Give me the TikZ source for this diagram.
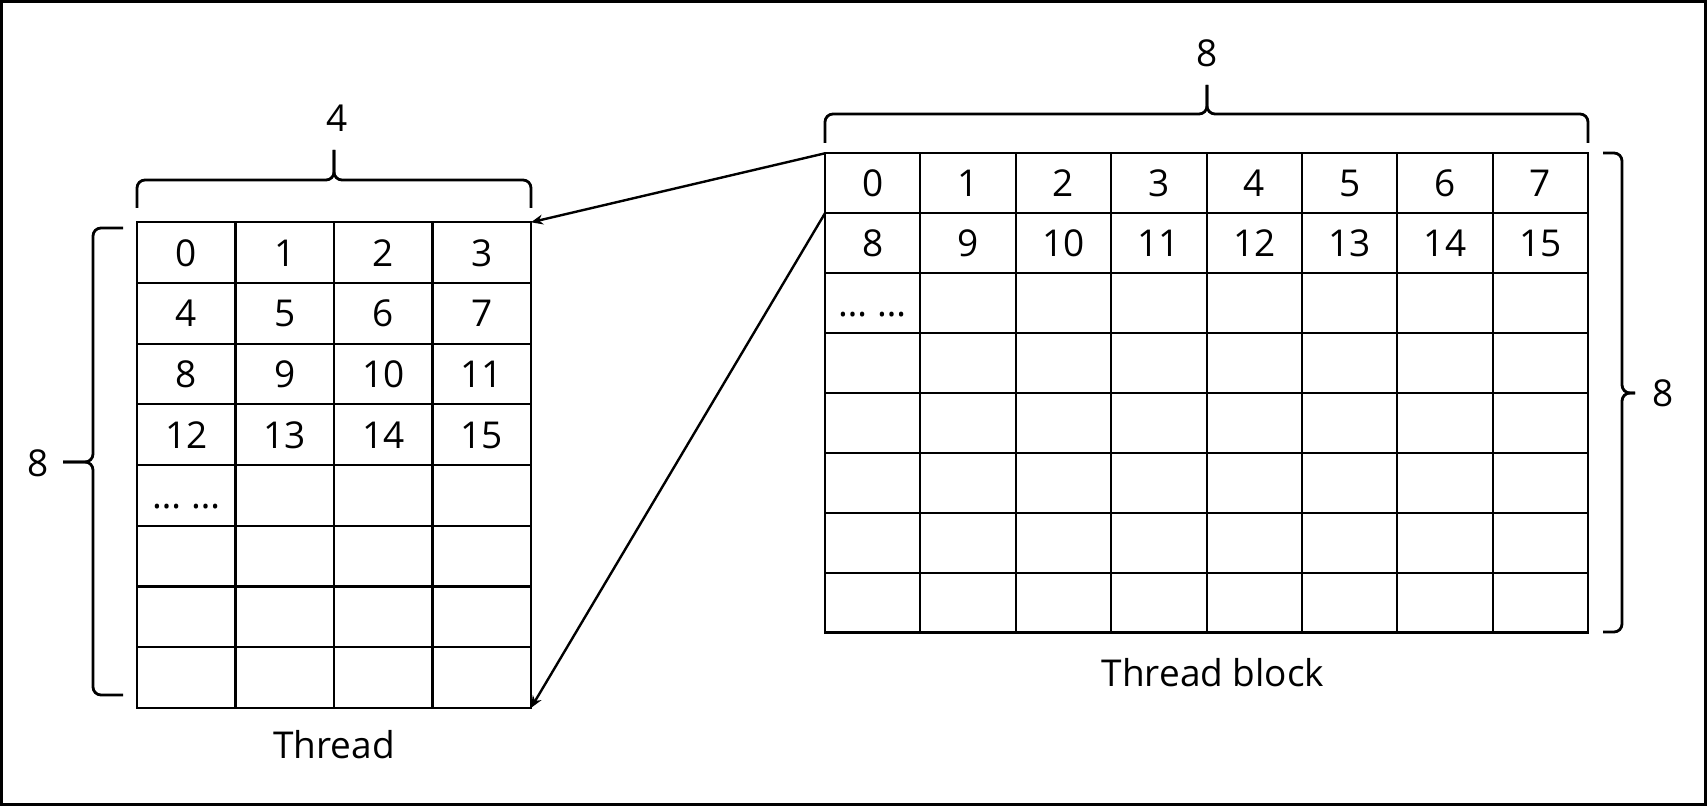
\documentclass[tikz,border=0pt]{standalone}
\usepackage{fontspec}
\setmainfont{Open Sans}
\usetikzlibrary{arrows.meta, calc}

\begin{document}
\begin{tikzpicture}[x=0.5pt, y=-0.5pt,
		every node/.style={font=\fontsize{18.5}{22}\selectfont},
		tcell/.style={draw, line width=1.05pt, inner sep=0pt, outer sep=0pt,
			minimum width=49.25pt, minimum height=30.35pt, text height=13.5pt, text depth=0pt},
		bcell/.style={tcell, minimum width=47.7pt, minimum height=29.95pt},
		curly/.style={line width=1.4pt, rounded corners=4pt},
		link/.style={-{Stealth[length=6pt, width=5pt]}, line width=1.2pt}]
		\useasboundingbox (0,0) rectangle (1707,806);
		% Frame
		\draw[line width=1.6pt] (1.5,1.5) rectangle (1705.5,804.5);

		% Thread
		\foreach \r in {1,...,8}
		\foreach \c in {1,...,4} {
			\pgfmathtruncatemacro{\n}{4*(\r-1)+\c-1}
			\node[tcell] (t-\r-\c) at ({137+98.5*(\c-0.5)}, {222.3+60.7*(\r-0.5)}) {\ifnum\r<5 \n\fi};
		}
		\node[tcell, draw=none] (t-dots) at (t-5-1) {… …};

		% Thread block
		\foreach \r in {1,...,8}
		\foreach \c in {1,...,8} {
			\pgfmathtruncatemacro{\n}{8*(\r-1)+\c-1}
			\node[bcell] (b-\r-\c) at ({825+95.4*(\c-0.5)}, {153.3+59.9*(\r-0.5)}) {\ifnum\r<3 \n\fi};
		}
		\node[bcell, draw=none] (b-dots) at (b-3-1) {… …};

		% Braces
		\draw[curly] (137,208) -- (137,180) -- (334,180) -- (334,150);
		\draw[curly] (531,208) -- (531,180) -- (334,180) -- (334,150);
		\draw[curly] (123,228) -- (93,228) -- (93,462) -- (63,462);
		\draw[curly] (123,695) -- (93,695) -- (93,462) -- (63,462);
		\draw[curly] (825,143) -- (825,114) -- (1207,114) -- (1207,85);
		\draw[curly] (1588,143) -- (1588,114) -- (1207,114) -- (1207,85);
		\draw[curly] (1603,153) -- (1622,153) -- (1622,393) -- (1635,393);
		\draw[curly] (1603,632) -- (1622,632) -- (1622,393) -- (1635,393);

		\node (t-cols) at (337,118) {4};
		\node (t-rows) at (38,463) {8};
		\node (b-cols) at (1207,53) {8};
		\node (b-rows) at (1663,393) {8};
		\node[anchor=base] (t-name) at (334,758) {Thread};
		\node[anchor=base] (b-name) at (1213,686) {Thread block};

		% Arrows
		\draw[link] (b-1-1.north west) -- (t-1-4.north east);
		\draw[link] (b-1-1.south west) -- (t-8-4.south east);
	\end{tikzpicture}
\end{document}
